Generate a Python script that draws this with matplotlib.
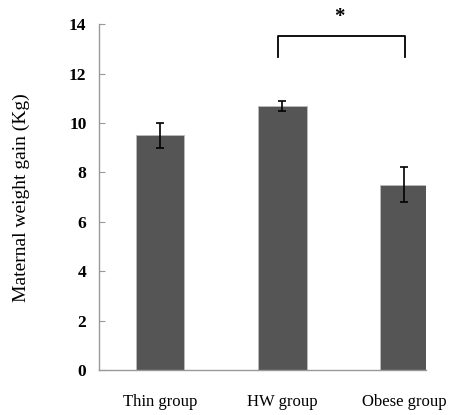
import matplotlib
matplotlib.use("Agg")
import matplotlib.pyplot as plt
import numpy as np

# Datos
grupos = ["Thin group", "HW group", "Obese group"]
ganancia = [9.5, 10.7, 7.5]   # Maternal weight gain (Kg)
error = [0.5, 0.2, 0.7]
y_ticks = [0, 2, 4, 6, 8, 10, 12, 14]

plt.rcParams['font.family'] = ['Liberation Serif', 'DejaVu Serif']

fig = plt.figure(figsize=(4.5, 4.15), dpi=100)
ax = fig.add_axes([0.22, 0.108, 0.727, 0.834])

x = np.arange(len(grupos))
ax.bar(x, ganancia, width=0.4, color='#555555', edgecolor='#bbbbbb', linewidth=0.6,
       yerr=error, error_kw=dict(ecolor='black', elinewidth=1.2, capsize=3, capthick=1.2))

ax.set_xlim(-0.5, 2.18)
ax.set_ylim(0, 14)
ax.set_yticks(y_ticks)
ax.set_xticks(x)
ax.set_xticklabels(grupos, fontsize=12)
ax.tick_params(axis='x', length=0, pad=17)
ax.tick_params(axis='y', direction='in', length=4, color='#999999', labelsize=12.5, pad=9)
for lbl in ax.get_yticklabels():
    lbl.set_fontweight('bold')

for lado in ['top', 'right']:
    ax.spines[lado].set_visible(False)
for lado in ['left', 'bottom']:
    ax.spines[lado].set_color('#999999')
    ax.spines[lado].set_linewidth(1.0)

ax.set_ylabel('Maternal weight gain (Kg)', fontsize=14, labelpad=28)

# Corchete de significancia
ax.plot([0.97, 0.97, 2.01, 2.01], [12.66, 13.52, 13.52, 12.66], color='black', lw=1.3, clip_on=False)
ax.text(1.47, 14.3, '*', ha='center', va='center', fontsize=15, fontweight='bold')

fig.savefig('out.png', dpi=100)
